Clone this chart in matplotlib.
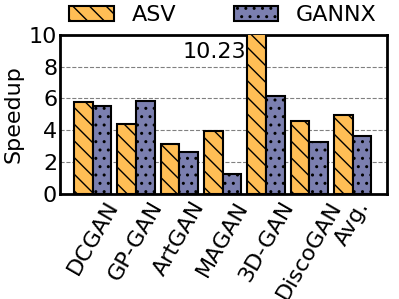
import matplotlib
matplotlib.use("Agg")
import matplotlib.pyplot as plt
import numpy as np

categories = ["DCGAN", "GP-GAN", "ArtGAN", "MAGAN", "3D-GAN", "DiscoGAN", "Avg."]
asv = [5.77, 4.41, 3.14, 3.95, 10.23, 4.58, 4.97]
gannx = [5.51, 5.81, 2.59, 1.22, 6.15, 3.23, 3.65]
series_names = ["ASV", "GANNX"]

plt.rcParams['hatch.linewidth'] = 1.0
plt.rcParams['font.family'] = ['DejaVu Sans']

fig = plt.figure(figsize=(3.99, 2.99), dpi=100)
ax = fig.add_axes([60/399, 1-193.5/299, 327/399, 158.5/299])

x = np.arange(len(categories))
w = 0.43
b1 = ax.bar(x - w/2, asv, w, color="#FFBE55", edgecolor="black", linewidth=1.5,
            hatch="\\\\", label=series_names[0], zorder=3)
b2 = ax.bar(x + w/2, gannx, w, color="#7B7FAF", edgecolor="black", linewidth=1.5,
            hatch="..", label=series_names[1], zorder=3)

ax.set_ylim(0, 10)
ax.set_xlim(-0.755, 6.795)
ax.set_yticks([0, 2, 4, 6, 8, 10])
ax.yaxis.grid(True, linestyle="--", color="gray", linewidth=0.8, zorder=0)
ax.set_xticks(x)
ax.set_xticklabels(categories, rotation=60, ha="center", fontsize=16)
ax.tick_params(axis="y", labelsize=16, length=0, pad=2)
ax.tick_params(axis="x", length=0, pad=3)
ax.set_ylabel("Speedup", fontsize=16, labelpad=4)
for s in ax.spines.values():
    s.set_linewidth(2)

ax.text(4 - w - 0.02, 8.9, f"{asv[4]:.2f}", ha="right", va="center", fontsize=16)

fig.legend(handles=[b1, b2], loc="upper center", bbox_to_anchor=(0.559, 1.05), ncol=2,
           frameon=False, fontsize=16, handlelength=2.0, handleheight=0.68,
           columnspacing=2.6, handletextpad=0.8)

fig.savefig("out.png", dpi=100)
